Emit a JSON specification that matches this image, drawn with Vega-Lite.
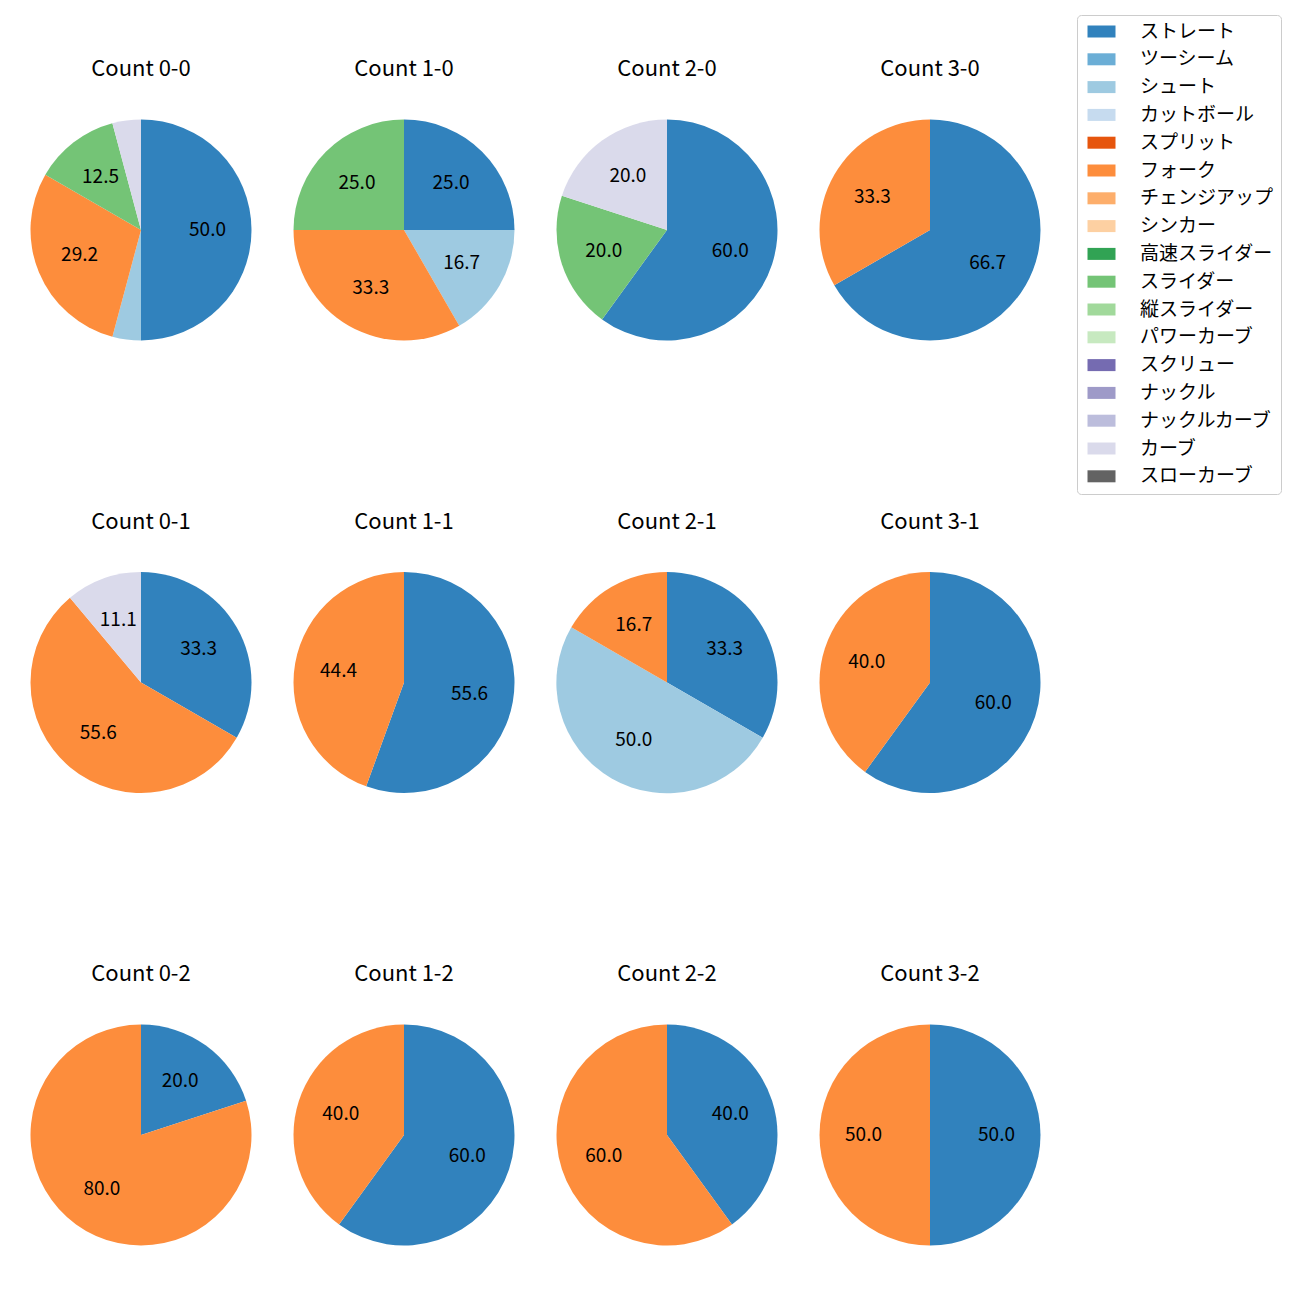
{
  "$schema": "https://vega.github.io/schema/vega-lite/v6.json",
  "padding": {"left": 30, "top": 14, "right": 0, "bottom": 0},
  "background": "white",
  "data": {"values": [
    {"c": "Count 0-0", "p": "ストレート", "o": 0, "v": 50.0},
    {"c": "Count 0-0", "p": "シュート", "o": 2, "v": 4.17},
    {"c": "Count 0-0", "p": "フォーク", "o": 5, "v": 29.17},
    {"c": "Count 0-0", "p": "スライダー", "o": 9, "v": 12.5},
    {"c": "Count 0-0", "p": "カーブ", "o": 15, "v": 4.17},
    {"c": "Count 1-0", "p": "ストレート", "o": 0, "v": 25.0},
    {"c": "Count 1-0", "p": "シュート", "o": 2, "v": 16.67},
    {"c": "Count 1-0", "p": "フォーク", "o": 5, "v": 33.33},
    {"c": "Count 1-0", "p": "スライダー", "o": 9, "v": 25.0},
    {"c": "Count 2-0", "p": "ストレート", "o": 0, "v": 60.0},
    {"c": "Count 2-0", "p": "スライダー", "o": 9, "v": 20.0},
    {"c": "Count 2-0", "p": "カーブ", "o": 15, "v": 20.0},
    {"c": "Count 3-0", "p": "ストレート", "o": 0, "v": 66.67},
    {"c": "Count 3-0", "p": "フォーク", "o": 5, "v": 33.33},
    {"c": "Count 0-1", "p": "ストレート", "o": 0, "v": 33.33},
    {"c": "Count 0-1", "p": "フォーク", "o": 5, "v": 55.56},
    {"c": "Count 0-1", "p": "カーブ", "o": 15, "v": 11.11},
    {"c": "Count 1-1", "p": "ストレート", "o": 0, "v": 55.56},
    {"c": "Count 1-1", "p": "フォーク", "o": 5, "v": 44.44},
    {"c": "Count 2-1", "p": "ストレート", "o": 0, "v": 33.33},
    {"c": "Count 2-1", "p": "シュート", "o": 2, "v": 50.0},
    {"c": "Count 2-1", "p": "フォーク", "o": 5, "v": 16.67},
    {"c": "Count 3-1", "p": "ストレート", "o": 0, "v": 60.0},
    {"c": "Count 3-1", "p": "フォーク", "o": 5, "v": 40.0},
    {"c": "Count 0-2", "p": "ストレート", "o": 0, "v": 20.0},
    {"c": "Count 0-2", "p": "フォーク", "o": 5, "v": 80.0},
    {"c": "Count 1-2", "p": "ストレート", "o": 0, "v": 60.0},
    {"c": "Count 1-2", "p": "フォーク", "o": 5, "v": 40.0},
    {"c": "Count 2-2", "p": "ストレート", "o": 0, "v": 40.0},
    {"c": "Count 2-2", "p": "フォーク", "o": 5, "v": 60.0},
    {"c": "Count 3-2", "p": "ストレート", "o": 0, "v": 50.0},
    {"c": "Count 3-2", "p": "フォーク", "o": 5, "v": 50.0}
  ]},
  "facet": {
    "field": "c", "type": "nominal",
    "sort": ["Count 0-0", "Count 1-0", "Count 2-0", "Count 3-0", "Count 0-1", "Count 1-1", "Count 2-1", "Count 3-1", "Count 0-2", "Count 1-2", "Count 2-2", "Count 3-2"],
    "header": {"title": null, "labelFontSize": 22, "labelFont": "Noto Sans CJK JP", "labelColor": "black", "labelPadding": 38}
  },
  "columns": 4,
  "spacing": {"column": 41, "row": 169.5},
  "spec": {
    "width": 222,
    "height": 222,
    "encoding": {
      "theta": {"field": "v", "type": "quantitative", "stack": true},
      "order": {"field": "o", "type": "quantitative"},
      "color": {
        "field": "p", "type": "nominal",
        "scale": {
          "domain": ["ストレート", "ツーシーム", "シュート", "カットボール", "スプリット", "フォーク", "チェンジアップ", "シンカー", "高速スライダー", "スライダー", "縦スライダー", "パワーカーブ", "スクリュー", "ナックル", "ナックルカーブ", "カーブ", "スローカーブ"],
          "range": ["#3182bd", "#6baed6", "#9ecae1", "#c6dbef", "#e6550d", "#fd8d3c", "#fdae6b", "#fdd0a2", "#31a354", "#74c476", "#a1d99b", "#c7e9c0", "#756bb1", "#9e9ac8", "#bcbddc", "#dadaeb", "#636363"]
        },
        "legend": {
          "title": null,
          "orient": "none",
          "legendX": 1047,
          "legendY": -104,
          "symbolType": "M-1,-1H3.667V1H-1Z",
          "symbolSize": 144,
          "symbolStrokeWidth": 0,
          "symbolOpacity": 1,
          "labelOffset": 37,
          "labelFontSize": 19,
          "labelFont": "Noto Sans CJK JP",
          "labelColor": "black",
          "rowPadding": 7.8,
          "padding": 7,
          "strokeColor": "#cccccc",
          "fillColor": "white",
          "cornerRadius": 4
        }
      }
    },
    "layer": [
      {"mark": {"type": "arc", "outerRadius": 110.5}},
      {
        "mark": {"type": "text", "radius": 66.5, "fontSize": 19, "font": "Noto Sans CJK JP", "color": "black"},
        "encoding": {
          "text": {"condition": {"test": "datum.v < 5", "value": ""}, "field": "v", "type": "quantitative", "format": ".1f"},
          "color": {"value": "black"}
        }
      }
    ]
  },
  "config": {"view": {"stroke": null}}
}
